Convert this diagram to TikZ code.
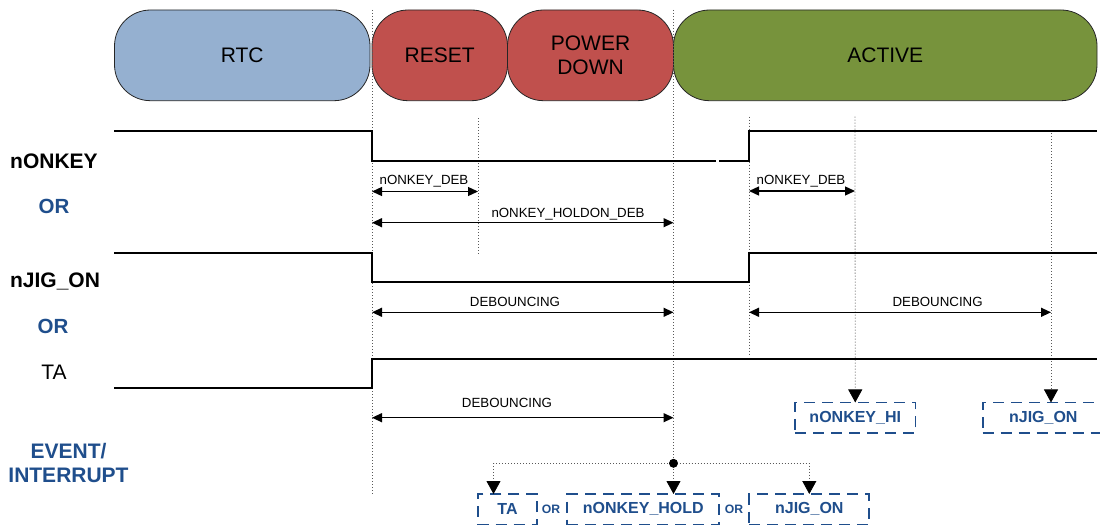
\documentclass[tikz,border=0pt]{standalone}
\usepackage{fontspec}
\setmainfont{Liberation Sans}
\usetikzlibrary{arrows.meta,calc}
\definecolor{rtcblue}{HTML}{95B0D0}
\definecolor{resred}{HTML}{C0504D}
\definecolor{actgreen}{HTML}{77933C}
\definecolor{evblue}{HTML}{1F4E8C}
\begin{document}
\begin{tikzpicture}[x=1pt,y=-1pt,
  statebox/.style={draw=black!85, line width=0.8pt, rounded corners=36pt, inner sep=0pt, outer sep=0pt,
    minimum height=90.7pt, font=\fontsize{21}{23.5}\selectfont, align=center},
  signal/.style={line width=2pt, black},
  guide/.style={line width=0.8pt, black!65, dash pattern=on 1pt off 2pt},
  dimarrow/.style={{Triangle[length=10pt,width=9pt]}-{Triangle[length=10pt,width=9pt]}, line width=1.3pt},
  dimlabel/.style={font=\fontsize{13.3}{15}\selectfont, inner sep=0pt},
  siglabel/.style={font=\fontsize{21}{24}\selectfont\bfseries, inner sep=0pt},
  plainlabel/.style={font=\fontsize{21}{24}\selectfont, inner sep=0pt},
  orlabel/.style={font=\fontsize{20.5}{24}\selectfont\bfseries, text=evblue, inner sep=0pt},
  evlabel/.style={font=\fontsize{21}{25}\selectfont\bfseries, text=evblue, align=center, inner sep=0pt},
  evbox/.style={draw=evblue, dash pattern=on 11pt off 7pt, line width=1.8pt, text=evblue,
    font=\fontsize{16}{19}\selectfont\bfseries, inner sep=0pt, outer sep=0pt, minimum height=30.5pt},
  smallor/.style={font=\fontsize{12.2}{14}\selectfont\bfseries, text=evblue, inner sep=0pt},
  evarrow/.style={line width=0.8pt, black!65, dash pattern=on 1pt off 2pt, -{Triangle[length=13pt,width=14pt,color=black]}},
]
\useasboundingbox (0,0) rectangle (1100,527);

% state bar
\node[statebox, fill=rtcblue, minimum width=255.5pt] (rtc) at (242.25,55.35) {RTC};
\node[statebox, fill=resred, minimum width=135.5pt] (reset) at (439.75,55.35) {RESET};
\node[statebox, fill=resred, minimum width=166pt] (pdown) at (590.5,55.35) {POWER\\DOWN};
\node[statebox, fill=actgreen, minimum width=423.5pt] (active) at (885.25,55.35) {ACTIVE};

% signal labels
\node[siglabel] (lnonkey) at (54,161.7) {nONKEY};
\node[orlabel] (or1) at (54,206.7) {OR};
\node[siglabel] (lnjig) at (55,281) {nJIG\_ON};
\node[orlabel] (or2) at (53,326.7) {OR};
\node[plainlabel] (lta) at (54,372.7) {TA};
\node[evlabel] (levent) at (68.5,463) {EVENT/\\[-0.5pt]INTERRUPT};

% guide coordinates
\coordinate (g1top) at (372,10);
\coordinate (g1bot) at (372,494);
\coordinate (g2top) at (478,118);
\coordinate (g2bot) at (478,253.3);
\coordinate (g3top) at (673.5,10);
\coordinate (g4top) at (749,116.7);
\coordinate (g4bot) at (749,355);
\coordinate (g5top) at (855,116.7);
\coordinate (g6top) at (1051,133.3);

% event boxes
\node[evbox, minimum width=120.5pt] (evhi) at (855.25,417.7) {nONKEY\_HI};
\node[evbox, minimum width=121.3pt] (evjigr) at (1043.3,417.7) {nJIG\_ON};
\node[evbox, minimum width=59.6pt] (evta) at (507.5,509.25) {TA};
\node[smallor] (or3) at (551,509.3) {OR};
\node[evbox, minimum width=152pt] (evhold) at (643.3,509.25) {nONKEY\_HOLD};
\node[smallor] (or4) at (734,509.3) {OR};
\node[evbox, minimum width=120pt] (evjig) at (809.3,509.25) {nJIG\_ON};

% dot
\node[circle, fill=black, inner sep=0pt, minimum size=8.7pt] (dot) at (673.5,463.3) {};

% guides
\draw[guide] (g1top) -- (g1bot);
\draw[guide] (g2top) -- (g2bot);
\draw[guide] (g3top) -- (dot.center);
\draw[guide] (g4top) -- (g4bot);
\draw[evarrow] (g5top) -- (evhi.north);
\draw[evarrow] (g6top) -- (g6top |- evjigr.north);
\draw[evarrow] (dot.center) -| ([xshift=-14pt]evta.north);
\draw[evarrow] (dot.center) -- (dot |- evhold.north);
\draw[evarrow] (dot.center) -| (evjig.north);
\node[circle, fill=black, inner sep=0pt, minimum size=8.7pt] at (dot) {};

% signals
\draw[signal] (114,130.7) -- (372,130.7) -- (372,160.7) -- (715.5,160.7);
\draw[signal] (719.4,160.7) -- (749,160.7) -- (749,130.7) -- (1097,130.7);
\draw[signal] (114,252.7) -- (372,252.7) -- (372,282.3) -- (749,282.3) -- (749,252.7) -- (1097,252.7);
\draw[signal] (114,387.7) -- (372,387.7) -- (372,358.7) -- (1097,358.7);

% dimension arrows
\coordinate (a1l) at (372,191.5); \coordinate (a1r) at (478,191.5);
\draw[dimarrow] (a1l) -- (a1r);
\node[dimlabel] (d1) at (424,181.2) {nONKEY\_DEB};
\coordinate (a2l) at (372,222.7); \coordinate (a2r) at (673.5,222.7);
\draw[dimarrow] (a2l) -- (a2r);
\node[dimlabel] (d2) at (568,213.7) {nONKEY\_HOLDON\_DEB};
\coordinate (a3l) at (749,191); \coordinate (a3r) at (855,191);
\draw[dimarrow] (a3l) -- (a3r);
\node[dimlabel] (d3) at (801,180.7) {nONKEY\_DEB};
\coordinate (a4l) at (372,312.3); \coordinate (a4r) at (673.5,312.3);
\draw[dimarrow] (a4l) -- (a4r);
\node[dimlabel] (d4) at (515,301.5) {DEBOUNCING};
\coordinate (a5l) at (749,312.3); \coordinate (a5r) at (1051,312.3);
\draw[dimarrow] (a5l) -- (a5r);
\node[dimlabel] (d5) at (937.6,301.5) {DEBOUNCING};
\coordinate (a6l) at (372,417.7); \coordinate (a6r) at (673.5,417.7);
\draw[dimarrow] (a6l) -- (a6r);
\node[dimlabel] (d6) at (507,402.5) {DEBOUNCING};
\end{tikzpicture}
\end{document}
